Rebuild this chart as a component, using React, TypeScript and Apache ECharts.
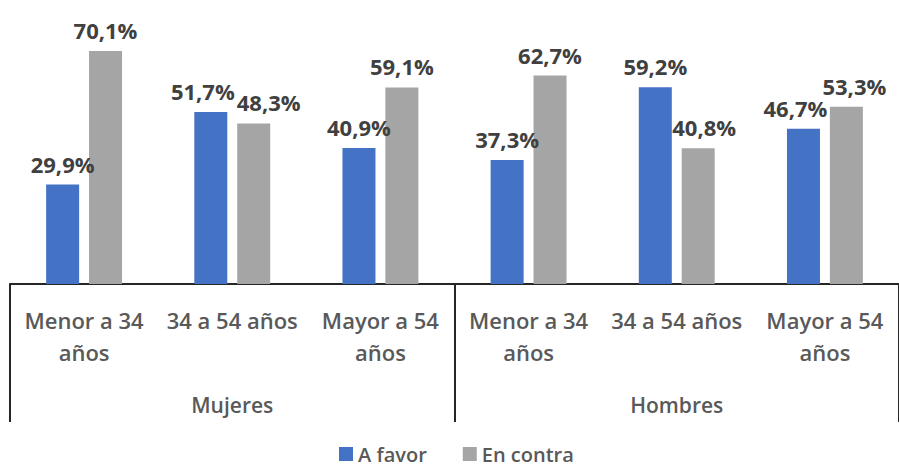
import React, { useEffect, useRef } from "react";
import * as echarts from "echarts";

const categories = ["Menor a 34\naños", "34 a 54 años", "Mayor a 54\naños", "Menor a 34\naños", "34 a 54 años", "Mayor a 54\naños"];
const groups = ["Mujeres", "Hombres"];
const aFavor = [29.9, 51.7, 40.9, 37.3, 59.2, 46.7];
const enContra = [70.1, 48.3, 59.1, 62.7, 40.8, 53.3];

const FONT = "Open Sans";
const fmt = (v: number) => v.toFixed(1).replace(".", ",") + "%";

// horizontal nudges of data labels (style only)
const favorShift = [0, -8, 0, 0, 0, -8];
const contraShift = [0, 15, 0, 0, 6, 8];

export default function App() {
  const ref = useRef<HTMLDivElement>(null);
  useEffect(() => {
    if (!ref.current) return;
    const chart = echarts.init(ref.current, null, { renderer: "svg" });
    const mk = (name: string, vals: number[], color: string, shift: number[]) => ({
      name,
      type: "bar",
      xAxisIndex: 0,
      barWidth: 33,
      barGap: "30%",
      itemStyle: { color },
      data: vals.map((v, i) => ({
        value: v,
        label: { offset: [shift[i], 0] },
      })),
      label: {
        show: true,
        position: "top",
        distance: 10,
        formatter: (p: any) => fmt(p.value),
        fontFamily: FONT,
        fontWeight: "bold",
        fontSize: 22,
        color: "#404040",
      },
    });
    chart.setOption({
      animation: false,
      grid: { left: 10, width: 900, top: 18, height: 266 },
      legend: {
        left: 334,
        top: 438,
        padding: 5,
        itemWidth: 14,
        itemHeight: 14,
        itemGap: 36,
        icon: "rect",
        textStyle: { fontFamily: FONT, fontSize: 20, lineHeight: 22, fontWeight: 600, color: "#595959" },
        data: ["A favor", "En contra"],
      },
      xAxis: [
        {
          type: "category",
          data: categories,
          position: "bottom",
          axisLine: { show: true, lineStyle: { color: "#262626", width: 2 } },
          axisTick: { show: false },
          axisLabel: {
            interval: 0,
            margin: 20,
            lineHeight: 32,
            fontFamily: FONT,
            fontSize: 22,
            fontWeight: 600,
            color: "#595959",
          },
        },
        {
          type: "category",
          data: groups,
          position: "bottom",
          axisLine: { show: false },
          axisTick: { show: true, length: 138, lineStyle: { color: "#262626", width: 2 } },
          axisLabel: {
            interval: 0,
            margin: 110,
            fontFamily: FONT,
            fontSize: 21,
            fontWeight: 600,
            color: "#595959",
          },
        },
      ],
      yAxis: { type: "value", min: 0, max: 80, show: false, splitLine: { show: false } },
      series: [
        mk("A favor", aFavor, "#4472C4", favorShift),
        mk("En contra", enContra, "#A5A5A5", contraShift),
      ],
    });
    return () => chart.dispose();
  }, []);
  return <div ref={ref} style={{ position: "absolute", left: 0, top: 0, width: 899, height: 468 }} />;
}
